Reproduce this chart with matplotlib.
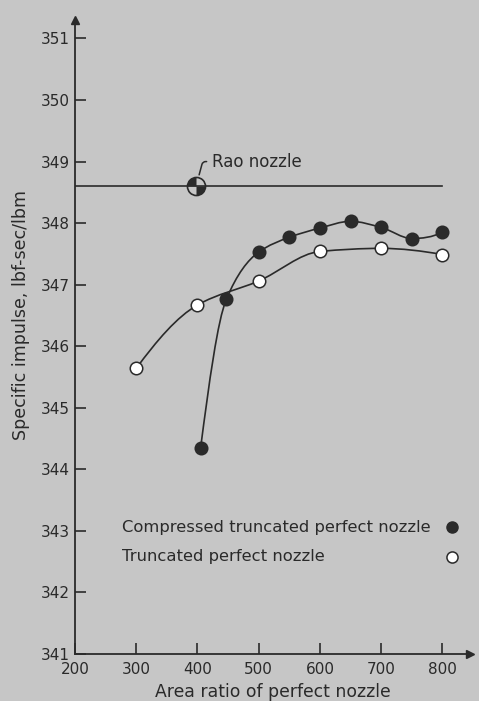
import matplotlib
matplotlib.use("Agg")
import matplotlib.pyplot as plt
from matplotlib.path import Path
from matplotlib.patches import PathPatch
from matplotlib.markers import MarkerStyle
import numpy as np

# area ratio vs specific impulse (lbf-sec/lbm)
ctp_x = [405, 447, 500, 550, 600, 650, 700, 750, 800]   # compressed truncated perfect nozzle
ctp_y = [344.34, 346.76, 347.53, 347.77, 347.92, 348.03, 347.93, 347.75, 347.85]
tp_x = [300, 400, 500, 600, 700, 800]                    # truncated perfect nozzle
tp_y = [345.64, 346.67, 347.06, 347.54, 347.59, 347.49]
rao_x = 398
rao_y = 348.61
line_x = [200, 800]

xticks = [200, 300, 400, 500, 600, 700, 800]
yticks = [341, 342, 343, 344, 345, 346, 347, 348, 349, 350, 351]

bg = "#c6c6c6"
ink = "#2a2a2a"
plt.rcParams['font.family'] = ['DejaVu Sans']


def smooth_path(xs, ys):
    # pchip-style hermite curve through the points, drawn as bezier segments
    x = np.asarray(xs, float)
    y = np.asarray(ys, float)
    h = np.diff(x)
    d = np.diff(y) / h
    m = np.zeros_like(x)
    for k in range(1, len(x) - 1):
        if d[k - 1] * d[k] > 0:
            w1 = 2 * h[k] + h[k - 1]
            w2 = h[k] + 2 * h[k - 1]
            m[k] = (w1 + w2) / (w1 / d[k - 1] + w2 / d[k])
    m[0] = ((2 * h[0] + h[1]) * d[0] - h[0] * d[1]) / (h[0] + h[1])
    m[-1] = ((2 * h[-1] + h[-2]) * d[-1] - h[-1] * d[-2]) / (h[-1] + h[-2])
    verts = [(x[0], y[0])]
    codes = [Path.MOVETO]
    for i in range(len(x) - 1):
        verts += [(x[i] + h[i] / 3, y[i] + m[i] * h[i] / 3),
                  (x[i + 1] - h[i] / 3, y[i + 1] - m[i + 1] * h[i] / 3),
                  (x[i + 1], y[i + 1])]
        codes += [Path.CURVE4] * 3
    return Path(verts, codes)


fig = plt.figure(figsize=(4.79, 7.01), dpi=100, facecolor=bg)
ax = fig.add_axes([75 / 479, 47 / 701, 395 / 479, 634 / 701])
ax.set_facecolor(bg)
ax.set_xlim(200, 845)
ax.set_ylim(341, 351.3)

for s in ["top", "right"]:
    ax.spines[s].set_visible(False)
for s in ["left", "bottom"]:
    ax.spines[s].set_color(ink)
    ax.spines[s].set_linewidth(1.3)
ax.plot(1, 0, ">", transform=ax.transAxes, color=ink, ms=6, clip_on=False)
ax.plot(0, 1, "^", transform=ax.transAxes, color=ink, ms=6, clip_on=False)

ax.set_xticks(xticks)
ax.set_yticks(yticks)
ax.tick_params(direction="in", length=8, width=1.2, color=ink, labelcolor=ink, labelsize=11)
ax.tick_params(axis="x", pad=6)

ax.set_xlabel("Area ratio of perfect nozzle", color=ink, fontsize=12.4, labelpad=4)
ax.set_ylabel("Specific impulse, lbf-sec/lbm", color=ink, fontsize=12.6)
ax.yaxis.set_label_coords(-0.115, 0.535)

# Rao nozzle reference line
ax.plot(line_x, [rao_y, rao_y], color=ink, lw=1.2)

# curves
ax.add_patch(PathPatch(smooth_path(tp_x, tp_y), fill=False, ec=ink, lw=1.2))
ax.add_patch(PathPatch(smooth_path(ctp_x, ctp_y), fill=False, ec=ink, lw=1.2))
ax.plot(tp_x, tp_y, "o", ms=9, mfc="white", mec=ink, mew=1.1, ls="none", zorder=3)
ax.plot(ctp_x, ctp_y, "o", ms=9, mfc=ink, mec=ink, mew=1.1, ls="none", zorder=3)

# Rao marker: circle with two black quarters
quarters = Path.make_compound_path(Path.wedge(90, 180), Path.wedge(270, 360))
ax.plot([rao_x], [rao_y], marker=MarkerStyle(quarters), ms=13, color=ink, mew=0, zorder=4)
ax.plot([rao_x], [rao_y], "o", ms=13, mfc="none", mec=ink, mew=1.2, zorder=5)
ax.annotate("Rao nozzle", xy=(rao_x, rao_y), xytext=(rao_x + 26, rao_y + 0.39),
            color=ink, fontsize=12, ha="left", va="center",
            arrowprops=dict(arrowstyle="-", color=ink, lw=1.1,
                            connectionstyle="angle,angleA=0,angleB=75,rad=3",
                            shrinkA=2, shrinkB=8))

# key
ax.text(0.118, 0.2, "Compressed truncated perfect nozzle", transform=ax.transAxes,
        color=ink, fontsize=11.8, va="center")
ax.text(0.118, 0.153, "Truncated perfect nozzle", transform=ax.transAxes,
        color=ink, fontsize=11.8, va="center")
ax.plot(0.955, 0.2, "o", transform=ax.transAxes, ms=8, mfc=ink, mec=ink, clip_on=False)
ax.plot(0.955, 0.153, "o", transform=ax.transAxes, ms=8, mfc="white", mec=ink, mew=1.1,
        clip_on=False)

fig.savefig("out.png", dpi=100, facecolor=bg)
